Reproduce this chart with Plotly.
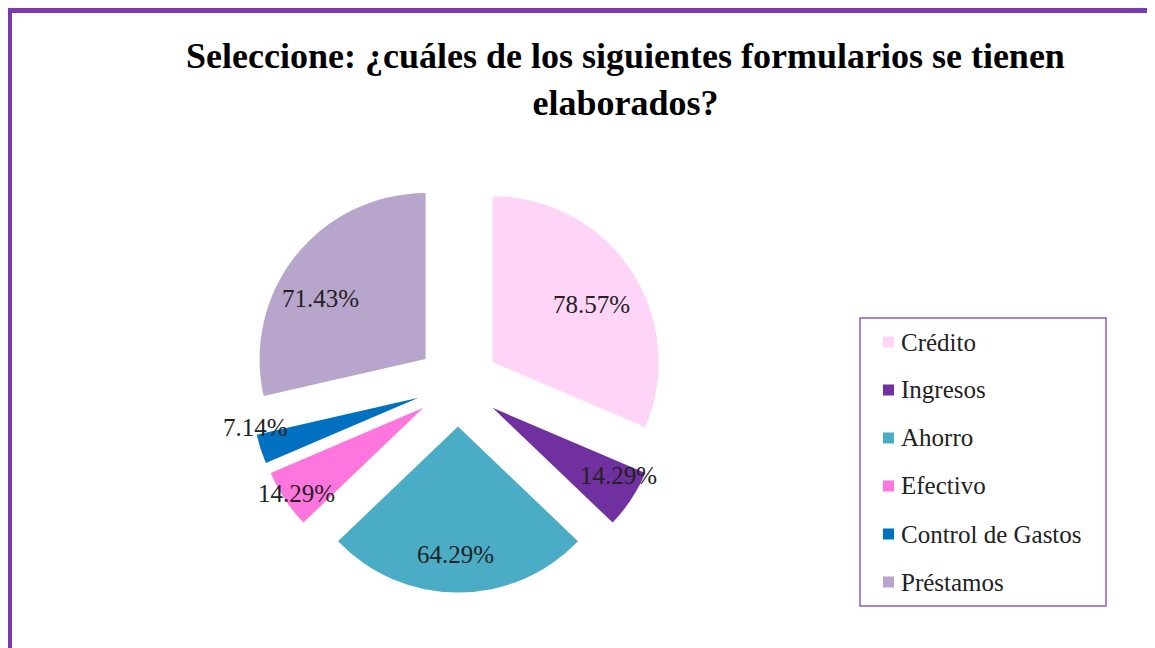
import math
import plotly.graph_objects as go

# ---- data ----
categories = ["Crédito", "Ingresos", "Ahorro", "Efectivo", "Control de Gastos", "Préstamos"]
values = [78.57, 14.29, 64.29, 14.29, 7.14, 71.43]
colors = ["#FFD5F7", "#7030A0", "#4BACC6", "#FF75DE", "#0070C0", "#B7A5CC"]
title_text = "Seleccione: ¿cuáles de los siguientes formularios se tienen<br>elaborados?"

# ---- layout constants (pixels, in figure coordinates) ----
W, H = 1155, 648
OFF = 8                    # page body margin offset
CX, CY = 458 - OFF, 385 - OFF   # pie centre
R = 166                    # pie radius
PULL = 0.25                # explode fraction
# label placement ("best fit"): distance from slice apex (x radius) and angle tweak (deg)
label_frac = [0.69, 0.86, 0.77, 0.92, 1.0, 0.73]
label_dang = [3.5, -5.0, 1.3, -0.6, 7.6, -8.4]
FONT = "Liberation Serif"
BORDER = "#7B3AAE"


def px(x):
    return x / W


def py(y):
    return 1 - y / H


half = R * (1 + PULL)
dom_x = [px(CX - half), px(CX + half)]
dom_y = [py(CY + half), py(CY - half)]

fig = go.Figure()
fig.add_trace(go.Pie(
    labels=categories,
    values=values,
    marker=dict(colors=colors, line=dict(width=0)),
    sort=False,
    direction="clockwise",
    rotation=0,
    pull=[PULL] * len(values),
    textinfo="none",
    hovertemplate="%{label}: %{value}%<extra></extra>",
    domain=dict(x=dom_x, y=dom_y),
    showlegend=False,
))

annotations = []
shapes = []

# data labels computed from the slice geometry
total = sum(values)
start = 0.0
for v, f, da in zip(values, label_frac, label_dang):
    span = v / total * 360
    mid = math.radians(start + span / 2)
    ax = CX + R * PULL * math.sin(mid)
    ay = CY - R * PULL * math.cos(mid)
    la = mid + math.radians(da)
    lx = ax + R * f * math.sin(la)
    ly = ay - R * f * math.cos(la)
    annotations.append(dict(
        x=px(lx), y=py(ly), xref="paper", yref="paper",
        text=f"{v:.2f}%", showarrow=False,
        font=dict(family=FONT, size=25, color="#222222"),
        xanchor="center", yanchor="middle",
    ))
    start += span

# title
annotations.append(dict(
    x=px(625 - OFF), y=py(79 - OFF), xref="paper", yref="paper",
    text="<b>" + title_text + "</b>", showarrow=False,
    font=dict(family=FONT, size=36, color="#000000"),
    xanchor="center", yanchor="middle", align="center",
))

# legend (drawn manually to match spacing)
LX0, LX1, LY0, LY1 = 860 - OFF, 1106 - OFF, 318 - OFF, 606 - OFF
shapes.append(dict(type="rect", xref="paper", yref="paper",
                   x0=px(LX0), x1=px(LX1), y0=py(LY1), y1=py(LY0),
                   line=dict(color="#8E5CC4", width=1.5), fillcolor="rgba(0,0,0,0)"))
for i, (cat, col) in enumerate(zip(categories, colors)):
    yc = 342 - OFF + i * 48
    shapes.append(dict(type="rect", xref="paper", yref="paper",
                       x0=px(883 - OFF), x1=px(894 - OFF), y0=py(yc + 5.5), y1=py(yc - 5.5),
                       line=dict(width=0), fillcolor=col))
    annotations.append(dict(
        x=px(899 - OFF), y=py(yc), xref="paper", yref="paper",
        text=cat, showarrow=False,
        font=dict(family=FONT, size=25, color="#222222"),
        xanchor="left", yanchor="middle",
    ))

# outer purple frame
shapes.append(dict(type="rect", xref="paper", yref="paper",
                   x0=px(0), x1=px(1152 - OFF), y0=-0.05, y1=py(10 - OFF),
                   line=dict(color=BORDER, width=6), fillcolor="rgba(0,0,0,0)"))
shapes.append(dict(type="line", xref="paper", yref="paper",
                   x0=px(0), x1=px(0), y0=-0.05, y1=py(10 - OFF),
                   line=dict(color=BORDER, width=8)))

fig.update_layout(
    width=W, height=H,
    margin=dict(l=0, r=0, t=0, b=0),
    paper_bgcolor="white",
    plot_bgcolor="white",
    annotations=annotations,
    shapes=shapes,
    showlegend=False,
)

fig.write_html("out.html")
